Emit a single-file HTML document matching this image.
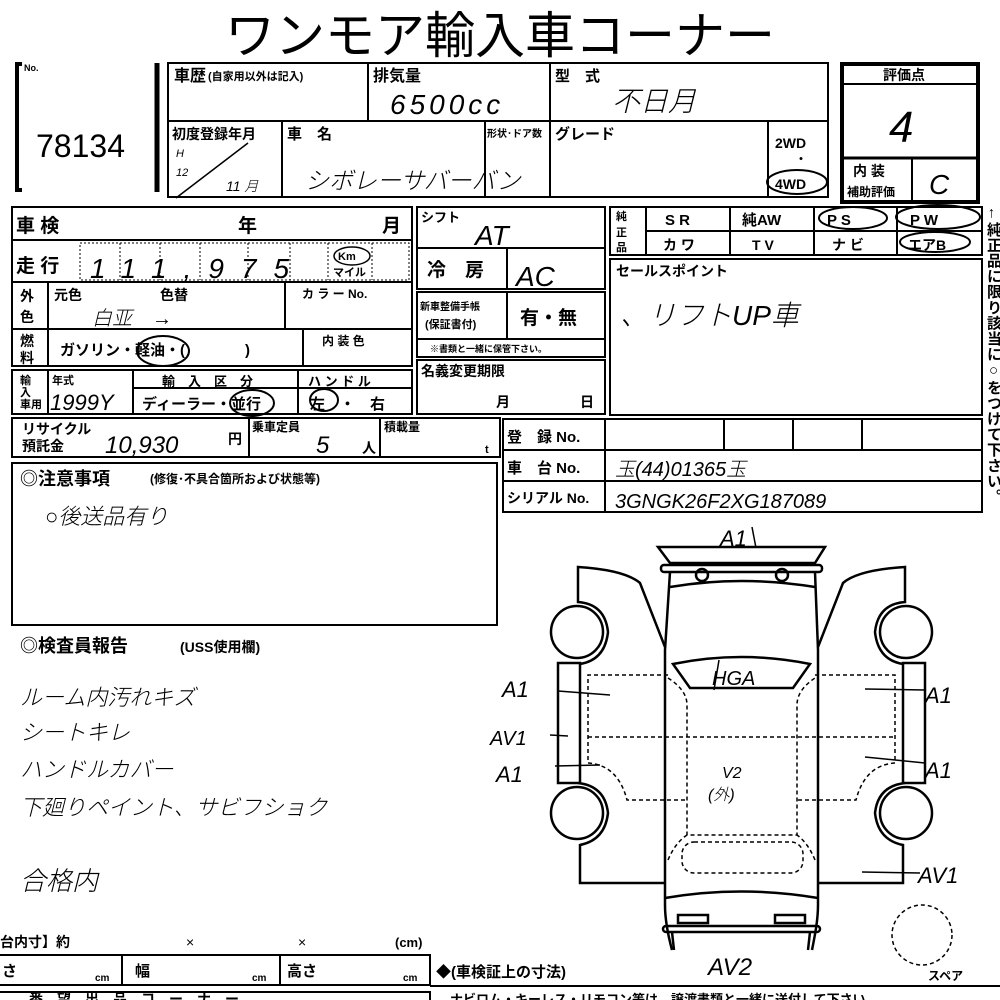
<!DOCTYPE html>
<html><head><meta charset="utf-8"><style>
html,body{margin:0;padding:0;background:#fff;}
#w{position:relative;width:1000px;height:1000px;overflow:hidden;background:#fff;}
svg{position:absolute;left:0;top:0;}
text{font-family:"Liberation Sans","Noto Sans CJK JP",sans-serif;fill:#000;}
.b{font-weight:bold;}
.h{font-family:"Liberation Sans","Noto Sans CJK JP",sans-serif;font-weight:300;font-style:italic;}
#vt{position:absolute;left:985px;top:206px;writing-mode:vertical-rl;font-family:"Liberation Sans","Noto Sans CJK JP",sans-serif;font-weight:bold;font-size:15px;line-height:16px;color:#000;letter-spacing:0.6px;}
</style></head><body><div id="w">
<svg width="1000" height="1000" viewBox="0 0 1000 1000">
<g fill="none" stroke="#000" stroke-width="2">
<path d="M22 64 H17 V190 H22" stroke-width="4"/>
<line x1="157" y1="63" x2="157" y2="192" stroke-width="5"/>
<rect x="168" y="63" width="660" height="134"/>
<line x1="168" y1="121" x2="828" y2="121"/>
<line x1="368" y1="63" x2="368" y2="121"/>
<line x1="550" y1="63" x2="550" y2="197"/>
<line x1="282" y1="121" x2="282" y2="197"/>
<line x1="485" y1="121" x2="485" y2="197"/>
<line x1="768" y1="121" x2="768" y2="197"/>
<rect x="842" y="64" width="136" height="138" stroke-width="4"/>
<line x1="842" y1="84" x2="978" y2="84"/>
<line x1="842" y1="158" x2="978" y2="158" stroke-width="3"/>
<line x1="912" y1="158" x2="912" y2="202"/>
<rect x="12" y="207" width="400" height="159"/>
<line x1="12" y1="240" x2="412" y2="240"/>
<line x1="12" y1="282" x2="412" y2="282"/>
<line x1="12" y1="329" x2="412" y2="329"/>
<line x1="48" y1="282" x2="48" y2="366"/>
<line x1="285" y1="282" x2="285" y2="329"/>
<line x1="303" y1="329" x2="303" y2="366"/>
<rect x="12" y="370" width="400" height="44"/>
<line x1="48" y1="370" x2="48" y2="414"/>
<line x1="133" y1="370" x2="133" y2="414"/>
<line x1="298" y1="370" x2="298" y2="414"/>
<line x1="133" y1="388" x2="412" y2="388"/>
<rect x="12" y="418" width="488" height="39"/>
<line x1="249" y1="418" x2="249" y2="457"/>
<line x1="380" y1="418" x2="380" y2="457"/>
<rect x="417" y="207" width="188" height="82"/>
<line x1="417" y1="248" x2="605" y2="248"/>
<line x1="507" y1="248" x2="507" y2="289"/>
<rect x="417" y="292" width="188" height="65"/>
<line x1="417" y1="339" x2="605" y2="339"/>
<line x1="507" y1="292" x2="507" y2="339"/>
<rect x="417" y="360" width="188" height="54"/>
<rect x="610" y="207" width="372" height="48"/>
<line x1="646" y1="231" x2="982" y2="231"/>
<line x1="646" y1="207" x2="646" y2="255"/>
<line x1="730" y1="207" x2="730" y2="255"/>
<line x1="814" y1="207" x2="814" y2="255"/>
<line x1="897" y1="207" x2="897" y2="255"/>
<rect x="610" y="259" width="372" height="156"/>
<rect x="503" y="419" width="479" height="93"/>
<line x1="503" y1="450" x2="982" y2="450"/>
<line x1="503" y1="481" x2="982" y2="481"/>
<line x1="605" y1="419" x2="605" y2="512"/>
<line x1="724" y1="419" x2="724" y2="450"/>
<line x1="793" y1="419" x2="793" y2="450"/>
<line x1="862" y1="419" x2="862" y2="450"/>
<rect x="12" y="463" width="485" height="162"/>
<path d="M0 955 H430 V985 H0"/>
<line x1="122" y1="955" x2="122" y2="985"/>
<line x1="280" y1="955" x2="280" y2="985"/>
<line x1="430" y1="986" x2="1000" y2="986"/>
<path d="M0 992 H430 V1000"/>
</g>
<g fill="none" stroke="#000" stroke-width="1" stroke-dasharray="2,2">
<rect x="80" y="243" width="329" height="37"/>
<line x1="120" y1="243" x2="120" y2="280"/><line x1="160" y1="243" x2="160" y2="280"/>
<line x1="200" y1="243" x2="200" y2="280"/><line x1="248" y1="243" x2="248" y2="280"/>
<line x1="290" y1="243" x2="290" y2="280"/><line x1="328" y1="243" x2="328" y2="280"/>
<line x1="372" y1="243" x2="372" y2="280"/>
</g>
<text x="24" y="71" font-size="9" class="b">No.</text>
<text x="36" y="157" font-size="32">78134</text>
<text x="174" y="81" font-size="16" class="b">車歴</text>
<text x="208" y="80" font-size="11" class="b">(自家用以外は記入)</text>
<text x="373" y="81" font-size="16" class="b">排気量</text>
<text x="555" y="81" font-size="15" class="b">型　式</text>
<text x="172" y="139" font-size="14" class="b">初度登録年月</text>
<text x="287" y="139" font-size="15" class="b">車　名</text>
<text x="487" y="137" font-size="10" class="b">形状･ドア数</text>
<text x="555" y="139" font-size="15" class="b">グレード</text>
<text x="775" y="148" font-size="14" class="b">2WD</text>
<text x="795" y="163" font-size="12" class="b">・</text>
<text x="775" y="189" font-size="14" class="b">4WD</text>
<text x="883" y="80" font-size="14" class="b">評価点</text>
<text x="853" y="176" font-size="14" class="b">内 装</text>
<text x="847" y="196" font-size="12" class="b">補助評価</text>
<text x="16" y="232" font-size="19" class="b">車 検</text>
<text x="238" y="232" font-size="19" class="b">年</text>
<text x="382" y="232" font-size="19" class="b">月</text>
<text x="16" y="272" font-size="19" class="b">走 行</text>
<text x="338" y="260" font-size="11" class="b">Km</text>
<text x="333" y="276" font-size="11" class="b">マイル</text>
<text x="20" y="301" font-size="14" class="b">外</text>
<text x="20" y="322" font-size="14" class="b">色</text>
<text x="54" y="300" font-size="14" class="b">元色</text>
<text x="160" y="300" font-size="14" class="b">色替</text>
<text x="302" y="298" font-size="12" class="b">カ ラ ー No.</text>
<text x="20" y="346" font-size="14" class="b">燃</text>
<text x="20" y="363" font-size="14" class="b">料</text>
<text x="60" y="355" font-size="15" class="b">ガソリン・軽油・(　　　　)</text>
<text x="322" y="345" font-size="12" class="b">内 装 色</text>
<text x="20" y="384" font-size="11" class="b">輸</text>
<text x="20" y="396" font-size="11" class="b">入</text>
<text x="20" y="408" font-size="11" class="b">車用</text>
<text x="52" y="384" font-size="11" class="b">年式</text>
<text x="162" y="386" font-size="13" class="b">輸　入　区　分</text>
<text x="308" y="386" font-size="13" class="b">ハ ン ド ル</text>
<text x="142" y="409" font-size="15" class="b">ディーラー・並行</text>
<text x="310" y="409" font-size="15" class="b">左　・　右</text>
<text x="22" y="434" font-size="14" class="b">リサイクル</text>
<text x="22" y="451" font-size="14" class="b">預託金</text>
<text x="228" y="444" font-size="14" class="b">円</text>
<text x="252" y="431" font-size="12" class="b">乗車定員</text>
<text x="362" y="453" font-size="14" class="b">人</text>
<text x="384" y="431" font-size="12" class="b">積載量</text>
<text x="485" y="453" font-size="11" class="b">t</text>
<text x="421" y="222" font-size="13" class="b">シフト</text>
<text x="427" y="276" font-size="19" class="b">冷　房</text>
<text x="420" y="310" font-size="10" class="b">新車整備手帳</text>
<text x="425" y="328" font-size="11" class="b">(保証書付)</text>
<text x="520" y="324" font-size="19" class="b">有・無</text>
<text x="430" y="352" font-size="9" class="b">※書類と一緒に保管下さい。</text>
<text x="421" y="376" font-size="14" class="b">名義変更期限</text>
<text x="496" y="407" font-size="14" class="b">月</text>
<text x="580" y="407" font-size="14" class="b">日</text>
<text x="616" y="220" font-size="11" class="b">純</text>
<text x="616" y="236" font-size="11" class="b">正</text>
<text x="616" y="251" font-size="11" class="b">品</text>
<text x="665" y="225" font-size="15" class="b">S R</text>
<text x="742" y="225" font-size="15" class="b">純AW</text>
<text x="827" y="225" font-size="15" class="b">P S</text>
<text x="910" y="225" font-size="15" class="b">P W</text>
<text x="663" y="250" font-size="14" class="b">カ ワ</text>
<text x="752" y="250" font-size="14" class="b">T V</text>
<text x="832" y="250" font-size="14" class="b">ナ ビ</text>
<text x="908" y="250" font-size="14" class="b">エアB</text>
<text x="616" y="276" font-size="14" class="b">セールスポイント</text>
<text x="507" y="442" font-size="15" class="b">登　録 No.</text>
<text x="507" y="473" font-size="15" class="b">車　台 No.</text>
<text x="507" y="503" font-size="14" class="b">シリアル No.</text>
<text x="20" y="485" font-size="18" class="b">◎注意事項</text>
<text x="150" y="483" font-size="12" class="b">(修復･不具合箇所および状態等)</text>
<text x="20" y="652" font-size="18" class="b">◎検査員報告</text>
<text x="180" y="652" font-size="14" class="b">(USS使用欄)</text>
<text x="0" y="947" font-size="14" class="b">台内寸】約</text>
<text x="186" y="947" font-size="14">×</text>
<text x="298" y="947" font-size="14">×</text>
<text x="395" y="947" font-size="13" class="b">(cm)</text>
<text x="2" y="976" font-size="15" class="b">さ</text>
<text x="95" y="981" font-size="10" class="b">cm</text>
<text x="135" y="976" font-size="15" class="b">幅</text>
<text x="252" y="981" font-size="10" class="b">cm</text>
<text x="287" y="976" font-size="15" class="b">高さ</text>
<text x="403" y="981" font-size="10" class="b">cm</text>
<text x="436" y="977" font-size="15" class="b">◆(車検証上の寸法)</text>
<text x="928" y="980" font-size="12" class="b">スペア</text>
<text x="15" y="1004" font-size="14" class="b">　番　望　出　品　コ　ー　ナ　ー</text>
<text x="450" y="1004" font-size="13" class="b">ナビロム・キーレス・リモコン等は、譲渡書類と一緒に送付して下さい。</text>
<text x="500" y="53" font-size="50" text-anchor="middle">ワンモア輸入車コーナー</text>
<g class="h">
<text x="390" y="114" font-size="28" class="h" letter-spacing="4">6500cc</text>
<text x="612" y="111" font-size="28" class="h">不日月</text>
<text x="889" y="142" font-size="44" class="h">4</text>
<text x="929" y="194" font-size="28" class="h">C</text>
<text x="176" y="157" font-size="11" class="h">H</text>
<text x="176" y="176" font-size="11" class="h">12</text>
<text x="226" y="191" font-size="14" class="h">11 月</text>
<text x="305" y="189" font-size="24" class="h">シボレーサバーバン</text>
<text x="90" y="278" font-size="28" class="h" letter-spacing="17">111,975</text>
<text x="92" y="325" font-size="20" class="h">白亚　→</text>
<text x="50" y="410" font-size="22" class="h">1999Y</text>
<text x="105" y="453" font-size="24" class="h">10,930</text>
<text x="316" y="453" font-size="24" class="h">5</text>
<text x="475" y="245" font-size="28" class="h">AT</text>
<text x="516" y="286" font-size="28" class="h">AC</text>
<text x="620" y="325" font-size="28" class="h">、リフトUP車</text>
<text x="615" y="476" font-size="20" class="h">玉(44)01365玉</text>
<text x="615" y="508" font-size="20" class="h">3GNGK26F2XG187089</text>
<text x="45" y="524" font-size="22" class="h">○後送品有り</text>
<text x="20" y="705" font-size="22" class="h">ルーム内汚れキズ</text>
<text x="20" y="740" font-size="22" class="h">シートキレ</text>
<text x="20" y="777" font-size="22" class="h">ハンドルカバー</text>
<text x="20" y="815" font-size="22" class="h">下廻りペイント、サビフショク</text>
<text x="20" y="890" font-size="26" class="h">合格内</text>
<text x="720" y="546" font-size="22" class="h">A1</text>
<text x="712" y="685" font-size="20" class="h">HGA</text>
<text x="502" y="697" font-size="22" class="h">A1</text>
<text x="490" y="745" font-size="20" class="h">AV1</text>
<text x="496" y="782" font-size="22" class="h">A1</text>
<text x="925" y="703" font-size="22" class="h">A1</text>
<text x="925" y="778" font-size="22" class="h">A1</text>
<text x="918" y="883" font-size="22" class="h">AV1</text>
<text x="722" y="778" font-size="16" class="h">V2</text>
<text x="708" y="800" font-size="16" class="h">(外)</text>
<text x="708" y="975" font-size="24" class="h">AV2</text>
</g>
<g fill="none" stroke="#000" stroke-width="2">
<ellipse cx="797" cy="182" rx="30" ry="12"/>
<ellipse cx="163" cy="351" rx="26" ry="15"/>
<ellipse cx="252" cy="403" rx="22" ry="13"/>
<ellipse cx="324" cy="400" rx="14" ry="11"/>
<ellipse cx="853" cy="218" rx="34" ry="11"/>
<ellipse cx="938" cy="217" rx="42" ry="12"/>
<ellipse cx="935" cy="242" rx="35" ry="10"/>
<ellipse cx="352" cy="256" rx="18" ry="9" stroke-width="1.5"/>
<line x1="176" y1="198" x2="248" y2="143" stroke-width="1.5"/>
</g>
<g fill="none" stroke="#000" stroke-width="2.5">
<path d="M658 547 H825 L815 563 H670 Z"/>
<rect x="661" y="565" width="161" height="7" rx="3"/>
<circle cx="702" cy="575" r="6"/><circle cx="782" cy="575" r="6"/>
<path d="M670 572 L665 650 V905 C665 920 668 935 672 950 M815 572 L818 650 V905 C818 920 815 935 812 950"/>
<path d="M670 587 Q741 575 815 587"/>
<path d="M665 898 Q741 885 818 898"/>
<rect x="678" y="915" width="30" height="8"/><rect x="775" y="915" width="30" height="8"/>
<rect x="663" y="926" width="157" height="6" rx="3"/>
<path d="M672 932 L674 950 M810 932 L808 950"/>
<path d="M673 664 Q741 650 810 664 L793 688 H690 Z"/>
<path d="M665 647 L640 583 Q625 570 578 567 V602 Q605 604 608 632 Q605 660 580 664 M578 783 Q605 786 608 813 Q605 840 580 845 V883 H665"/>
<circle cx="577" cy="632" r="26"/><circle cx="577" cy="813" r="26"/>
<rect x="558" y="663" width="22" height="120"/>
<path d="M818 647 L843 583 Q858 570 905 567 V602 Q878 604 875 632 Q878 660 903 664 M905 783 Q878 786 875 813 Q878 840 903 845 V883 H818"/>
<circle cx="906" cy="632" r="26"/><circle cx="906" cy="813" r="26"/>
<rect x="903" y="663" width="22" height="120"/>
</g>
<g fill="none" stroke="#000" stroke-width="1.5" stroke-dasharray="4,3">
<path d="M668 675 H588 V763 Q618 765 627 800 H687"/>
<path d="M815 675 H895 V763 Q865 765 856 800 H797"/>
<line x1="588" y1="737" x2="895" y2="737"/>
<path d="M668 678 Q687 690 687 705 V835 H797 V705 Q797 690 815 678"/>
<rect x="682" y="842" width="121" height="31" rx="12"/>
<path d="M668 860 Q675 843 687 835 M815 860 Q808 843 797 835"/>
<circle cx="922" cy="935" r="30"/>
</g>
<g stroke="#000" stroke-width="1.5">
<line x1="752" y1="527" x2="756" y2="548"/>
<line x1="558" y1="691" x2="610" y2="695"/>
<line x1="550" y1="735" x2="568" y2="736"/>
<line x1="555" y1="766" x2="600" y2="765"/>
<line x1="865" y1="689" x2="925" y2="690"/>
<line x1="865" y1="757" x2="925" y2="763"/>
<line x1="862" y1="872" x2="920" y2="873"/>
<line x1="719" y1="660" x2="714" y2="690"/>
</g>
</svg>
<div id="vt">←純正品に限り該当に○をつけて下さい。</div>
</div></body></html>
